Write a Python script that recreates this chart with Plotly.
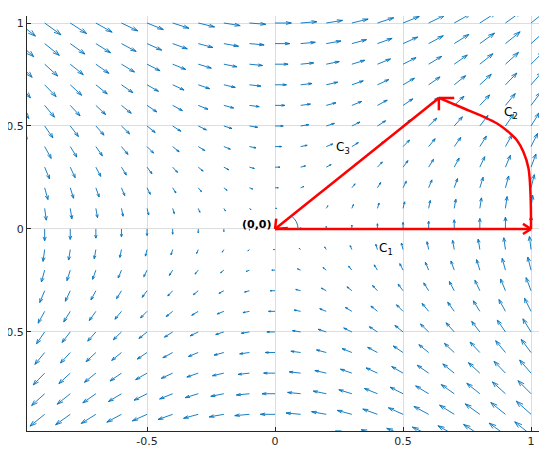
import math
import plotly.graph_objects as go

# ---------------- data ----------------
# grid of the vector field F(x, y) = (y, x)
x_grid = [-1.0, -0.9, -0.8, -0.7, -0.6, -0.5, -0.4, -0.3, -0.2, -0.1, 0.0,
          0.1, 0.2, 0.3, 0.4, 0.5, 0.6, 0.7, 0.8, 0.9, 1.0]
y_grid = [-1.0, -0.9, -0.8, -0.7, -0.6, -0.5, -0.4, -0.3, -0.2, -0.1, 0.0,
          0.1, 0.2, 0.3, 0.4, 0.5, 0.6, 0.7, 0.8, 0.9, 1.0]

# closed path: C1 (origin -> (1,0)), C2 (curve to apex), C3 (back to origin)
c1_x = [0.0, 1.0]
c1_y = [0.0, 0.0]
c2_x = [1.0, 0.998, 0.99, 0.97, 0.944, 0.911, 0.866, 0.814, 0.736, 0.64]
c2_y = [0.0, 0.165, 0.295, 0.375, 0.432, 0.472, 0.513, 0.545, 0.586, 0.636]
c3_x = [0.64, 0.0]
c3_y = [0.636, 0.0]

labels = ["C<sub>1</sub>", "C<sub>2</sub>", "C<sub>3</sub>", "<b>(0,0)</b>"]
label_x = [0.434, 0.922, 0.264, -0.006]
label_y = [-0.097, 0.563, 0.393, 0.024]

x_ticks = [-0.5, 0, 0.5, 1]
y_ticks = [-0.5, 0, 0.5, 1]
x_ticklabels = ["-0.5", "0", "0.5", "1"]
y_ticklabels = ["-0.5", "0", "0.5", "1"]

# ---------------- quiver (MATLAB-style autoscale) ----------------
dx = dy = 0.1
pts = [(x, y, y, x) for y in y_grid for x in x_grid]
maxlen = max(math.hypot(u / dx, v / dy) for _, _, u, v in pts)
s = 0.9 / maxlen
alpha, beta = 0.33, 0.33
qx, qy = [], []
for x0, y0, u, v in pts:
    us, vs = u * s, v * s
    x1, y1 = x0 + us, y0 + vs
    qx += [x0, x1, None]
    qy += [y0, y1, None]
    hx1 = x1 - alpha * (us + beta * vs)
    hy1 = y1 - alpha * (vs - beta * us)
    hx2 = x1 - alpha * (us - beta * vs)
    hy2 = y1 - alpha * (vs + beta * us)
    qx += [hx1, x1, hx2, None]
    qy += [hy1, y1, hy2, None]

fig = go.Figure()
fig.add_trace(go.Scatter(x=qx, y=qy, mode="lines",
                         line=dict(color="#0072BD", width=0.9),
                         hoverinfo="skip", showlegend=False))


def head(xs, ys, length, half_deg):
    """Arrowhead barbs at the last point of a polyline."""
    tx, ty = xs[-1], ys[-1]
    bx, by = xs[-2] - tx, ys[-2] - ty
    n = math.hypot(bx, by)
    bx, by = bx / n, by / n
    out_x, out_y = [], []
    for sgn in (1, -1):
        a = math.radians(half_deg) * sgn
        rx = bx * math.cos(a) - by * math.sin(a)
        ry = bx * math.sin(a) + by * math.cos(a)
        out_x += [tx + length * rx, tx, None]
        out_y += [ty + length * ry, ty, None]
    return out_x, out_y


red = dict(color="#ff0000", width=2.5)
fig.add_trace(go.Scatter(x=c1_x, y=c1_y, mode="lines", line=red,
                         hoverinfo="skip", showlegend=False))
fig.add_trace(go.Scatter(x=c2_x, y=c2_y, mode="lines",
                         line=dict(color="#ff0000", width=2.5, shape="spline", smoothing=1.0),
                         hoverinfo="skip", showlegend=False))
fig.add_trace(go.Scatter(x=c3_x, y=c3_y, mode="lines", line=red,
                         hoverinfo="skip", showlegend=False))

hx, hy = head(c1_x, c1_y, 0.04, 38)
fig.add_trace(go.Scatter(x=hx, y=hy, mode="lines", line=red, showlegend=False, hoverinfo="skip"))
hx, hy = head([0.74, c2_x[-1]], [0.536, c2_y[-1]], 0.06, 45)
fig.add_trace(go.Scatter(x=hx, y=hy, mode="lines", line=red, showlegend=False, hoverinfo="skip"))
hx, hy = head(c3_x, c3_y, 0.05, 40)
fig.add_trace(go.Scatter(x=hx, y=hy, mode="lines", line=red, showlegend=False, hoverinfo="skip"))

# angle marker at origin
fig.add_shape(type="path", xref="x", yref="y",
              path="M 0.09,0 Q 0.09,0.0373 0.0636,0.0636",
              line=dict(color="#4a6a90", width=1))

for t, x, y in zip(labels, label_x, label_y):
    bold = t.startswith("<b>")
    fig.add_annotation(x=x, y=y, text=t, showarrow=False,
                       xanchor="right" if bold else "center",
                       font=dict(family="DejaVu Sans", size=11 if bold else 12, color="#000000"))

axis_common = dict(showgrid=True, gridcolor="#dddddd", gridwidth=1,
                   zeroline=False, showline=True, linecolor="#262626", linewidth=1,
                   ticks="inside", ticklen=4, tickcolor="#262626",
                   tickfont=dict(family="DejaVu Sans", size=11, color="#262626"),
                   mirror=False, automargin=False)

# the page body has an 8px default margin, so the figure is placed at (8, 8)
fig.update_layout(
    width=539, height=446,
    margin=dict(l=19, r=7, t=8, b=23),
    paper_bgcolor="white", plot_bgcolor="white",
    xaxis=dict(range=[-0.969, 1.035], tickvals=x_ticks, ticktext=x_ticklabels, **axis_common),
    yaxis=dict(range=[-0.981, 1.034], tickvals=y_ticks, ticktext=y_ticklabels, **axis_common),
    showlegend=False,
)

fig.write_html("out.html")
